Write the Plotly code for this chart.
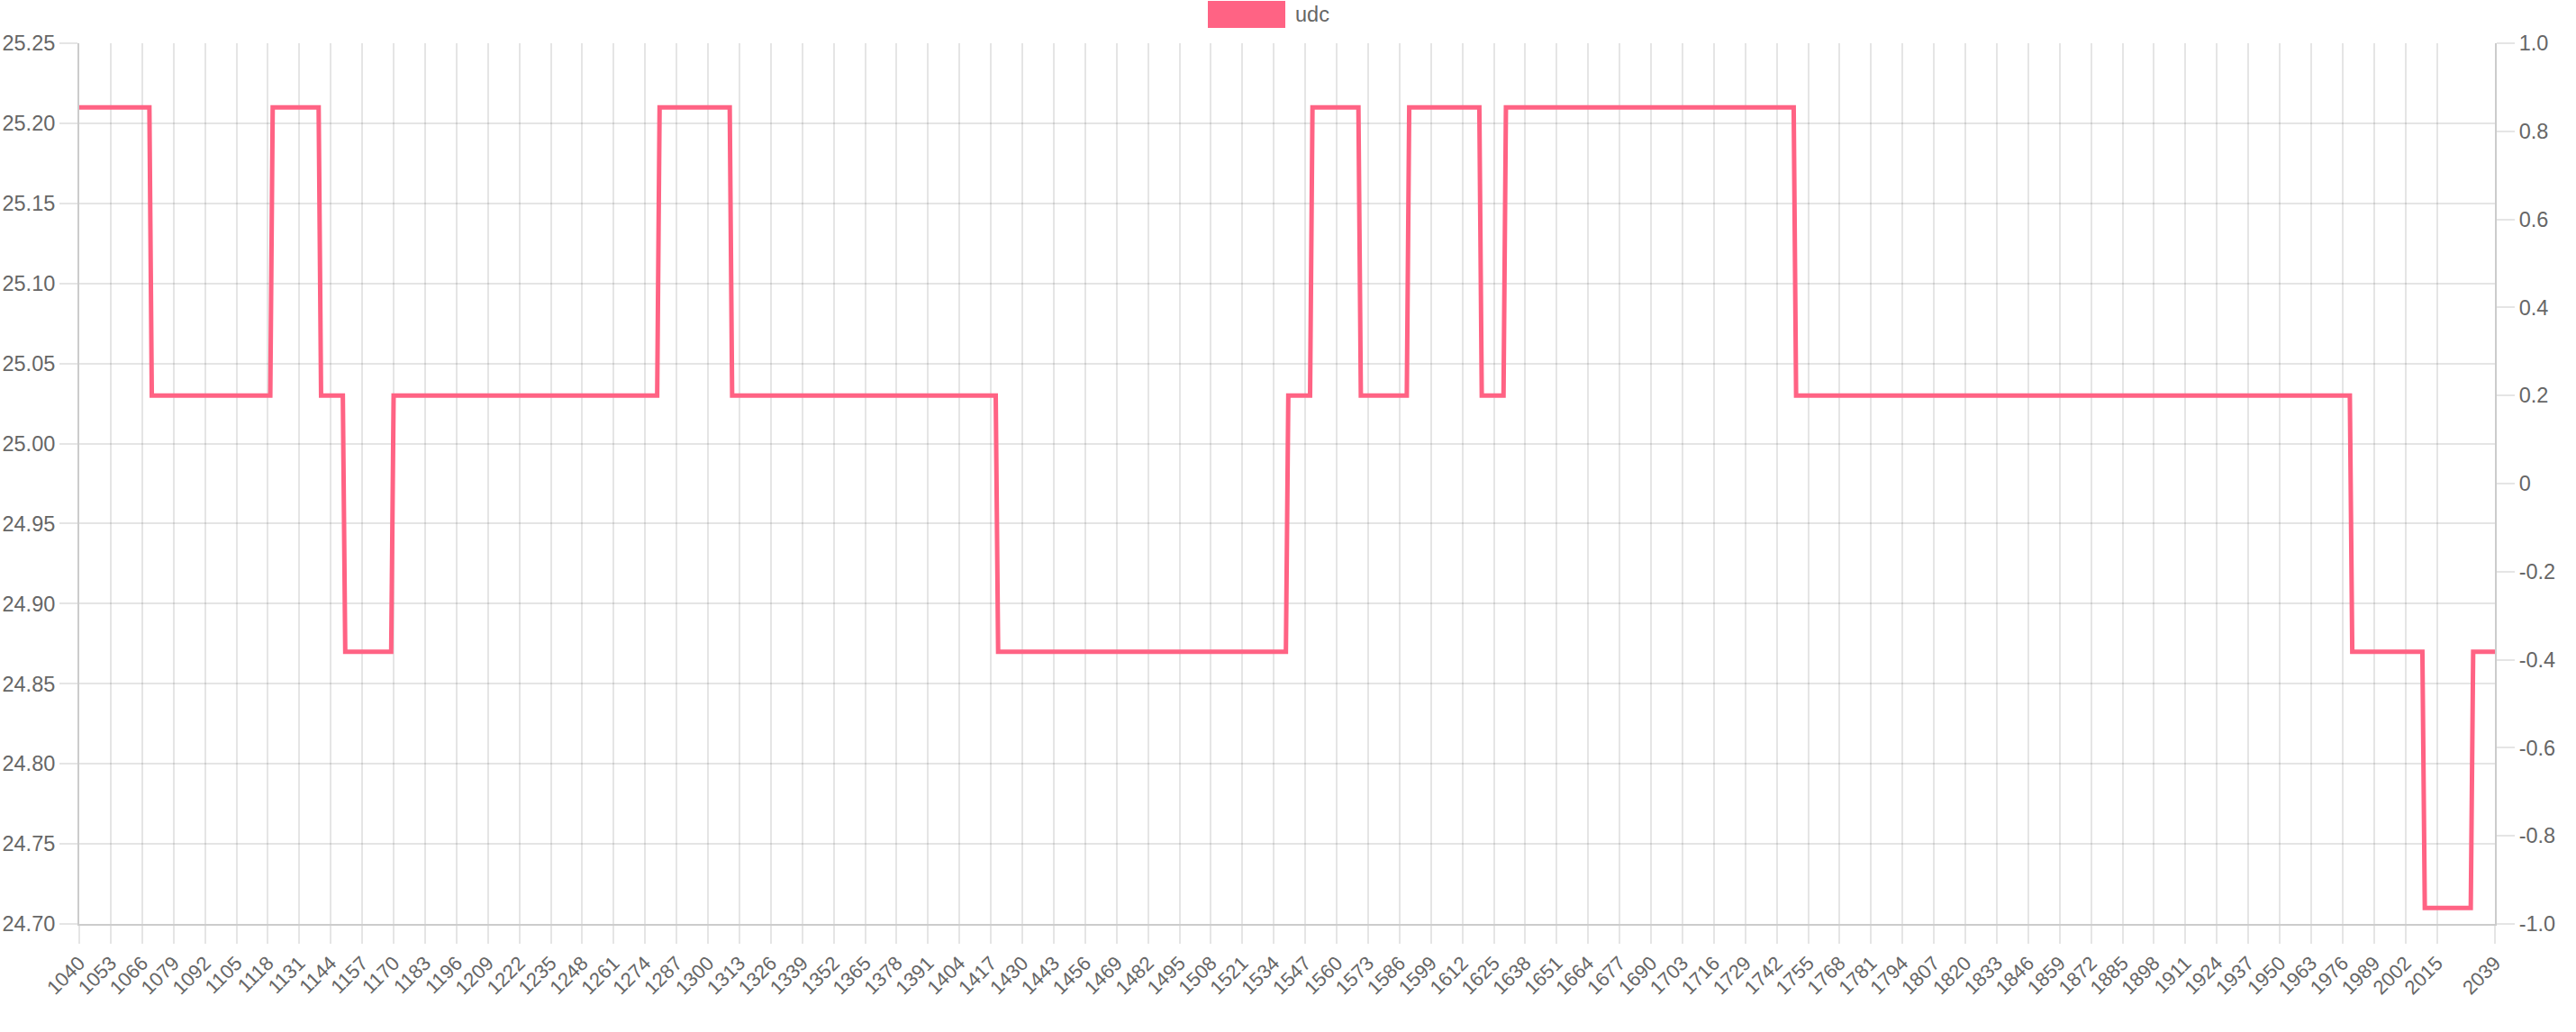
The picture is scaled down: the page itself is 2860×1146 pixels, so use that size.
import plotly.graph_objects as go

# ---- data ----
categories = list(range(1040, 2040))  # x categories 1040 .. 2039

# run-length description of the step signal
segment_starts = [1040, 1070, 1120, 1140, 1150, 1170, 1280, 1310, 1420,
                  1540, 1550, 1570, 1590, 1620, 1630, 1750, 1980, 2010, 2030]
segment_values = [25.21, 25.03, 25.21, 25.03, 24.87, 25.03, 25.21, 25.03, 24.87,
                  25.03, 25.21, 25.03, 25.21, 25.03, 25.21, 25.03, 24.87, 24.71, 24.87]

x_tick_labels = [1040, 1053, 1066, 1079, 1092, 1105, 1118, 1131, 1144, 1157, 1170,
                 1183, 1196, 1209, 1222, 1235, 1248, 1261, 1274, 1287, 1300, 1313,
                 1326, 1339, 1352, 1365, 1378, 1391, 1404, 1417, 1430, 1443, 1456,
                 1469, 1482, 1495, 1508, 1521, 1534, 1547, 1560, 1573, 1586, 1599,
                 1612, 1625, 1638, 1651, 1664, 1677, 1690, 1703, 1716, 1729, 1742,
                 1755, 1768, 1781, 1794, 1807, 1820, 1833, 1846, 1859, 1872, 1885,
                 1898, 1911, 1924, 1937, 1950, 1963, 1976, 1989, 2002, 2015, 2039]
y_left_ticks = [24.70, 24.75, 24.80, 24.85, 24.90, 24.95, 25.00, 25.05, 25.10, 25.15, 25.20, 25.25]
y_right_ticks = [-1.0, -0.8, -0.6, -0.4, -0.2, 0.0, 0.2, 0.4, 0.6, 0.8, 1.0]
y_right_text = ["-1.0", "-0.8", "-0.6", "-0.4", "-0.2", "0", "0.2", "0.4", "0.6", "0.8", "1.0"]
series_name = "udc"

# expand run-length segments to one value per category
udc = []
for c in categories:
    v = None
    for s, val in zip(segment_starts, segment_values):
        if c >= s:
            v = val
    udc.append(v)

# ---- style ----
W, H = 2860, 1146
ML, MR, MT, MB = 88, 90, 48, 120
PINK = "#ff6384"
GRID = "rgba(0,0,0,0.1)"
BORDER = "rgba(0,0,0,0.2)"
TXT = "#666666"
FONT = "Helvetica Neue, Helvetica, Arial, Liberation Sans, sans-serif"
FS = 23.5
FSX = 22

pw = W - ML - MR
ph = H - MT - MB

def px_x(px):
    return (px - ML) / pw

def px_y(py):
    return (H - MB - py) / ph

fig = go.Figure()
fig.add_trace(go.Scatter(
    x=categories, y=udc, mode="lines", name=series_name,
    line=dict(color=PINK, width=5), showlegend=False,
))
# empty trace to display the secondary (right) axis
fig.add_trace(go.Scatter(x=categories[:1], y=[None], yaxis="y2",
                         showlegend=False, hoverinfo="skip"))

fig.update_layout(
    width=W, height=H,
    margin=dict(l=ML, r=MR, t=MT, b=MB, pad=0, autoexpand=False),
    paper_bgcolor="white", plot_bgcolor="white",
    font=dict(family=FONT, size=FS, color=TXT),
    showlegend=False,
    xaxis=dict(
        range=[categories[0], categories[-1]], automargin=False,
        tickvals=x_tick_labels, ticktext=[str(v) for v in x_tick_labels],
        tickangle=-45, showgrid=True, gridcolor=GRID, gridwidth=2,
        ticks="outside", ticklen=20, tickcolor=GRID, tickwidth=2,
        showline=True, linecolor=BORDER, linewidth=2, mirror=False,
        zeroline=False, tickfont=dict(size=FSX, color=TXT),
    ),
    yaxis=dict(
        range=[24.70, 25.25], automargin=False,
        tickvals=y_left_ticks, ticktext=["%.2f" % v for v in y_left_ticks],
        showgrid=True, gridcolor=GRID, gridwidth=2,
        ticks="outside", ticklen=20, tickcolor=GRID, tickwidth=2,
        showline=True, linecolor=BORDER, linewidth=2,
        zeroline=False, tickfont=dict(size=FS, color=TXT),
    ),
    yaxis2=dict(
        range=[-1, 1], overlaying="y", side="right", automargin=False,
        tickvals=y_right_ticks, ticktext=y_right_text,
        showgrid=False, zeroline=False,
        ticks="outside", ticklen=20, tickcolor=GRID, tickwidth=2,
        showline=True, linecolor=BORDER, linewidth=2,
        tickfont=dict(size=FS, color=TXT),
    ),
    shapes=[dict(
        type="rect", xref="paper", yref="paper",
        x0=px_x(1341), x1=px_x(1427), y0=px_y(31), y1=px_y(1),
        fillcolor=PINK, line=dict(width=0),
    )],
    annotations=[dict(
        text=series_name, xref="paper", yref="paper",
        x=px_x(1436), y=px_y(16), xanchor="left", yanchor="middle",
        showarrow=False, font=dict(size=FS, color=TXT, family=FONT),
    )],
)

fig.write_html("out.html", config={"displayModeBar": False},
               post_script="document.body.style.margin='0px';document.body.style.padding='0px';")
